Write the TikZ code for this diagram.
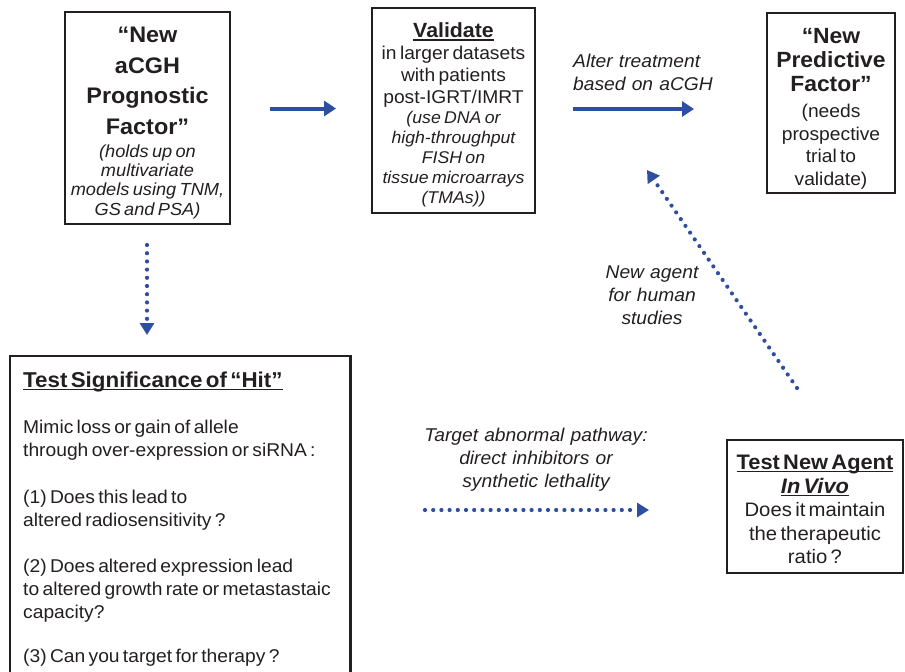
\documentclass[tikz,border=0pt]{standalone}
\usepackage{fontspec}
\setmainfont[FakeStretch=1.04, WordSpace={1.15,1,1}]{Liberation Sans}
\usetikzlibrary{arrows.meta}
\definecolor{ink}{RGB}{35,31,32}
\definecolor{arr}{RGB}{46,78,160}
\newcommand\myul[1]{\leavevmode\setbox0=\hbox{#1}\rlap{\rule[-3.2pt]{\wd0}{1.6pt}}\box0}
\newcommand\topstrut[1]{\rule{0pt}{#1}}
\tikzset{
  box/.style={draw=ink, line width=2.8pt, inner sep=0pt, align=center, text=ink},
  boxline/.style={draw=ink, line width=2.8pt},
  solidarrow/.style={draw=arr, line width=4pt, -{Triangle[length=12pt,width=15pt]}},
  dotarrow/.style={draw=arr, line width=4.2pt, line cap=round, dash pattern=on 0pt off 8.2pt, -{Triangle[length=12pt,width=14pt]}},
  lbl/.style={text=ink, inner sep=0pt, font=\fontsize{18.5}{23}\selectfont\itshape},
}
\begin{document}
\begin{tikzpicture}[x=1pt,y=-1pt]
\useasboundingbox (0,0) rectangle (905,672);

% Box 1
\node[box, minimum width=165pt, minimum height=212pt, text width=163pt] (prog) at (147.5,118) {%
  {\fontsize{22.5}{30.5}\selectfont\bfseries \topstrut{25.5pt}“New\\aCGH\\Prognostic\\Factor”\par}%
  \vspace{4pt}%
  {\fontsize{17.5}{19.3}\selectfont\itshape (holds up on\\multivariate\\models using TNM,\\GS and PSA)\par}};

% Box 2
\node[box, minimum width=163pt, minimum height=205pt, text width=161pt] (valid) at (453.5,110.5) {%
  {\fontsize{20.5}{22}\selectfont\bfseries \topstrut{24pt}\myul{Validate}\par}%
  {\fontsize{18.5}{22}\selectfont in larger datasets\\with patients\\post-IGRT/IMRT\par}%
  {\fontsize{17}{20}\selectfont\itshape (use DNA or\\high-throughput\\FISH on\\tissue microarrays\\(TMAs))\par}};

% Box 3
\node[box, minimum width=128pt, minimum height=180pt, text width=126pt] (pred) at (831,103) {%
  {\fontsize{22}{24}\selectfont\bfseries \topstrut{26pt}“New\\Predictive\\Factor”\par}%
  \vspace{4pt}%
  {\fontsize{18.5}{22.5}\selectfont (needs\\prospective\\trial to\\validate)\par}};

% Box 4 (open at bottom)
\node[minimum width=340pt, minimum height=322pt, inner sep=0pt, anchor=north west] (hit) at (10,356) {};
\draw[boxline] (hit.south west) -- (hit.north west) -- (hit.north east) -- (hit.south east);
\node[anchor=north west, inner sep=0pt, text width=330pt, align=left, text=ink] (hittext) at (23,371.5) {%
  {\fontsize{21.5}{23}\selectfont\bfseries \myul{Test Significance of “Hit”}\par}%
  \vspace{24pt}%
  {\fontsize{18.5}{22.7}\selectfont Mimic loss or gain of allele\\through over-expression or siRNA :\\[24pt]
  (1) Does this lead to\\altered radiosensitivity ?\\[24pt]
  (2) Does altered expression lead\\to altered growth rate or metastastaic\\capacity?\\[22pt]
  (3) Can you target for therapy ?\par}};

% Box 5
\node[box, minimum width=176pt, minimum height=133pt, text width=174pt] (vivo) at (815,506.5) {%
  {\fontsize{21}{24}\selectfont\bfseries \topstrut{20pt}\myul{Test New Agent}\\\myul{\itshape In Vivo}\par}%
  {\fontsize{19.5}{23.5}\selectfont Does it maintain\\the therapeutic\\ratio ?\par}};

% Labels
\node[lbl, anchor=west, align=left] (alter) at (573,72) {Alter treatment\\based on aCGH};
\node[lbl, align=center] (agent) at (652,295) {New agent\\for human\\studies};
\node[lbl, align=center] (target) at (536,460) {Target abnormal pathway:\\direct inhibitors or\\synthetic lethality};

% Arrow end points
\coordinate (a1s) at (270,108.5);
\coordinate (a1e) at (336,108.5);
\coordinate (a2s) at (573,109);
\coordinate (a2e) at (694,109);
\coordinate (d1s) at (147,245);
\coordinate (d1e) at (147,335);
\coordinate (d2s) at (425,510);
\coordinate (d2e) at (649,510);
\coordinate (d3s) at (797,388);
\coordinate (d3e) at (647,170);

\draw[solidarrow] (a1s) -- (a1e);
\draw[solidarrow] (a2s) -- (a2e);
\draw[dotarrow] (d1s) -- (d1e);
\draw[dotarrow] (d2s) -- (d2e);
\draw[dotarrow] (d3s) -- (d3e);
\end{tikzpicture}
\end{document}
